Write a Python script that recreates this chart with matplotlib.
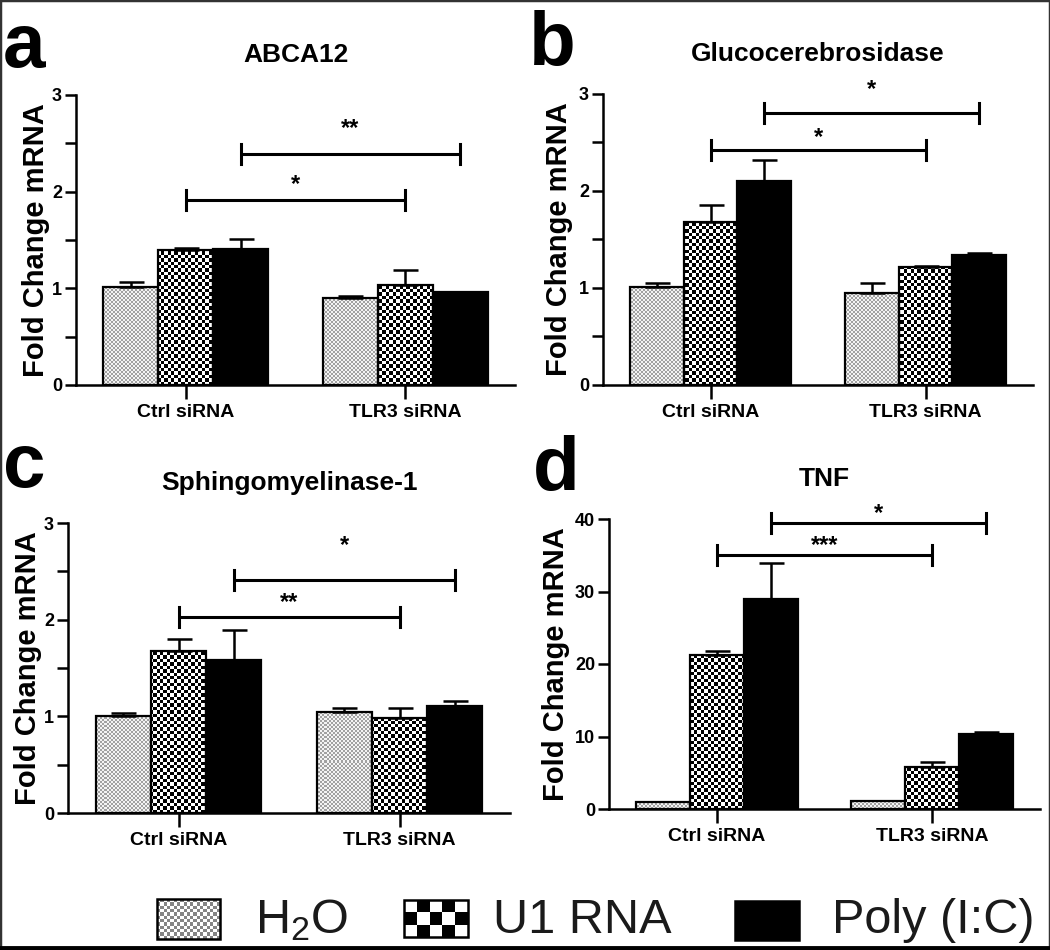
import numpy as np
import matplotlib
matplotlib.use('Agg')
import matplotlib.pyplot as plt
from matplotlib.colors import ListedColormap
from matplotlib.patches import Rectangle

plt.rcParams['font.family'] = ['Liberation Sans', 'DejaVu Sans']
plt.rcParams['mathtext.default'] = 'regular'

# ---------------- data ----------------
groups = ['Ctrl siRNA', 'TLR3 siRNA']
treatments = ['H$_2$O', 'U1 RNA', 'Poly (I:C)']
panel_letters = ['a', 'b', 'c', 'd']
titles = ['ABCA12', 'Glucocerebrosidase', 'Sphingomyelinase-1', 'TNF']

# rows = siRNA group, columns = treatment (H2O, U1 RNA, Poly I:C)
abca12_mean = [[1.01, 1.40, 1.41], [0.90, 1.03, 0.96]]
abca12_err = [[0.06, 0.02, 0.10], [0.02, 0.16, 0.00]]
gba_mean = [[1.01, 1.68, 2.10], [0.945, 1.22, 1.34]]
gba_err = [[0.04, 0.18, 0.22], [0.11, 0.01, 0.02]]
smpd1_mean = [[1.00, 1.68, 1.58], [1.045, 0.98, 1.11]]
smpd1_err = [[0.03, 0.12, 0.31], [0.045, 0.11, 0.045]]
tnf_mean = [[1.0, 21.3, 29.0], [1.1, 5.85, 10.3]]
tnf_err = [[0.0, 0.5, 4.9], [0.0, 0.65, 0.3]]

# significance: treatments compared between siRNA groups
sig_treatment = [1, 2]
abca12_sig = ['*', '**']
abca12_sig_y = [1.91, 2.39]
abca12_star_y = [2.15, 2.72]
gba_sig = ['*', '*']
gba_sig_y = [2.42, 2.80]
gba_star_y = [2.62, 3.12]
smpd1_sig = ['**', '*']
smpd1_sig_y = [2.03, 2.41]
smpd1_star_y = [2.25, 2.84]
tnf_sig = ['***', '*']
tnf_sig_y = [35.1, 39.4]
tnf_star_y = [37.3, 41.7]

y_max = [3, 3, 3, 40]
y_step = [1, 1, 1, 10]
y_minor = [0.5, 0.5, 0.5, None]

means = [abca12_mean, gba_mean, smpd1_mean, tnf_mean]
errs = [abca12_err, gba_err, smpd1_err, tnf_err]
sigs = [abca12_sig, gba_sig, smpd1_sig, tnf_sig]
sig_ys = [abca12_sig_y, gba_sig_y, smpd1_sig_y, tnf_sig_y]
star_ys = [abca12_star_y, gba_star_y, smpd1_star_y, tnf_star_y]

# ---------------- layout (pixels) ----------------
W, H = 1050, 950
boxes = [(76, 95, 515, 385), (603, 94, 1033, 385),
         (68, 523, 510, 813), (609, 519, 1040, 809)]
ylabel_right = [50, 573, 42, 570]
letter_pos = [(3, 67), (529, 65), (3, 487), (533, 490)]

fig = plt.figure(figsize=(W / 100, H / 100), dpi=100)

bar_w = 0.25
offsets = [-bar_w, 0.0, bar_w]
xg = np.arange(len(groups))


def checker(nrow, ncol):
    return np.add.outer(np.arange(nrow), np.arange(ncol)) % 2


def add_pattern(ax, patch, cell_px, colors, axpx):
    wpx, hpx = axpx
    arr = checker(int(round(hpx / cell_px)), int(round(wpx / cell_px)))
    x0, x1 = ax.get_xlim()
    y0, y1 = ax.get_ylim()
    im = ax.imshow(arr, extent=(x0, x1, y0, y1), origin='lower',
                   cmap=ListedColormap(colors), vmin=0, vmax=1,
                   interpolation='nearest', aspect='auto', zorder=2.5)
    im.set_clip_path(patch)


for k in range(4):
    l, t, r, b = boxes[k]
    ax = fig.add_axes([l / W, 1 - b / H, (r - l) / W, (b - t) / H])
    axpx = (r - l, b - t)
    ax.set_xlim(-0.5, 1.5)
    ax.set_ylim(0, y_max[k])
    m = np.array(means[k])
    e = np.array(errs[k])
    for j in range(3):
        xs = xg + offsets[j]
        face = 'black' if j == 2 else 'white'
        bars = ax.bar(xs, m[:, j], bar_w, color=face, edgecolor='none',
                      linewidth=0, zorder=2)
        if j == 0:
            for p in bars:
                add_pattern(ax, p, 2.0, ['#f4f4f4', '#a2a2a2'], axpx)
        elif j == 1:
            for p in bars:
                add_pattern(ax, p, 3.4, ['white', 'black'], axpx)
        ax.bar(xs, m[:, j], bar_w, facecolor='none', edgecolor='black',
               linewidth=1.6, zorder=3)
        mask = e[:, j] > 0
        ax.errorbar(xs[mask], m[mask, j],
                    yerr=[np.zeros(mask.sum()), e[mask, j]], fmt='none',
                    ecolor='black', elinewidth=1.8, capsize=9, capthick=1.8,
                    zorder=4)
    ax.set_xlim(-0.5, 1.5)
    ax.set_ylim(0, y_max[k])

    # significance brackets
    cap = 10.0 / axpx[1] * y_max[k]
    for s in range(2):
        jt = sig_treatment[s]
        xa, xb = xg[0] + offsets[jt], xg[1] + offsets[jt]
        yb = sig_ys[k][s]
        ax.plot([xa, xb], [yb, yb], color='black', lw=2.2, clip_on=False,
                zorder=5, solid_capstyle='butt')
        for xx in (xa, xb):
            ax.plot([xx, xx], [yb - cap, yb + cap], color='black', lw=2.2,
                    clip_on=False, zorder=5)
        ax.annotate(sigs[k][s], xy=((xa + xb) / 2, star_ys[k][s]),
                    xytext=(0, -5), textcoords='offset points',
                    ha='center', va='center', fontsize=17,
                    fontweight='bold', annotation_clip=False)

    # axes styling
    for sp in ('top', 'right'):
        ax.spines[sp].set_visible(False)
    for sp in ('left', 'bottom'):
        ax.spines[sp].set_linewidth(1.8)
    ax.set_xticks(xg)
    ax.set_xticklabels(groups, fontsize=14, fontweight='bold')
    ax.set_yticks(np.arange(0, y_max[k] + 1e-9, y_step[k]))
    ax.set_yticklabels([f'{v:g}' for v in
                        np.arange(0, y_max[k] + 1e-9, y_step[k])],
                       fontsize=13, fontweight='bold')
    if y_minor[k]:
        ax.set_yticks(np.arange(0, y_max[k] + 1e-9, y_minor[k]), minor=True)
    ax.tick_params(axis='y', which='both', length=8, width=1.8, pad=2)
    ax.tick_params(axis='x', length=10, width=1.8, pad=4)
    ax.set_ylabel('Fold Change mRNA', fontsize=21, fontweight='bold')
    ax.yaxis.set_label_coords((ylabel_right[k] - l) / (r - l), 0.5)
    ax.text(0.5, 1 + 33 / axpx[1], titles[k], transform=ax.transAxes,
            ha='center', va='baseline', fontsize=19, fontweight='bold')
    fig.text(letter_pos[k][0] / W, 1 - letter_pos[k][1] / H,
             panel_letters[k], ha='left', va='baseline', fontsize=55,
             fontweight='bold')

# ---------------- legend + frame (overlay in pixel coords) ----------------
ov = fig.add_axes([0, 0, 1, 1])
ov.set_axis_off()
ov.patch.set_visible(False)
ov.set_xlim(0, W)
ov.set_ylim(H, 0)

leg_boxes = [(157, 899, 63, 40), (404, 900, 64, 37), (735, 901, 64, 39)]
leg_text_x = [255, 493, 832]
leg_patterns = [(3.3, ['white', '#858585']), (12.0, ['white', 'black']),
                None]
for i, name in enumerate(treatments):
    x0, y0, w, h = leg_boxes[i]
    face = 'black' if leg_patterns[i] is None else 'white'
    rect = Rectangle((x0, y0), w, h, facecolor=face, edgecolor='none')
    ov.add_patch(rect)
    if leg_patterns[i] is not None:
        cell, cols = leg_patterns[i]
        arr = checker(int(round(h / cell)), int(round(w / cell)))
        im = ov.imshow(arr, extent=(x0, x0 + w, y0 + h, y0), origin='upper',
                       cmap=ListedColormap(cols), vmin=0, vmax=1,
                       interpolation='nearest', aspect='auto', zorder=1.5)
        im.set_clip_path(rect)
    ov.add_patch(Rectangle((x0, y0), w, h, facecolor='none',
                           edgecolor='black', linewidth=1.8, zorder=2))
    ov.text(leg_text_x[i], 933, name, ha='left', va='baseline', fontsize=35,
            color='#1a1a1a')

ov.set_xlim(0, W)
ov.set_ylim(H, 0)
ov.add_patch(Rectangle((0, 0), W, H, facecolor='none', edgecolor='#333333',
                       linewidth=2.5, clip_on=False))
ov.plot([0, W], [948, 948], color='black', lw=3.5, clip_on=False)

fig.savefig('out.png', dpi=100)
